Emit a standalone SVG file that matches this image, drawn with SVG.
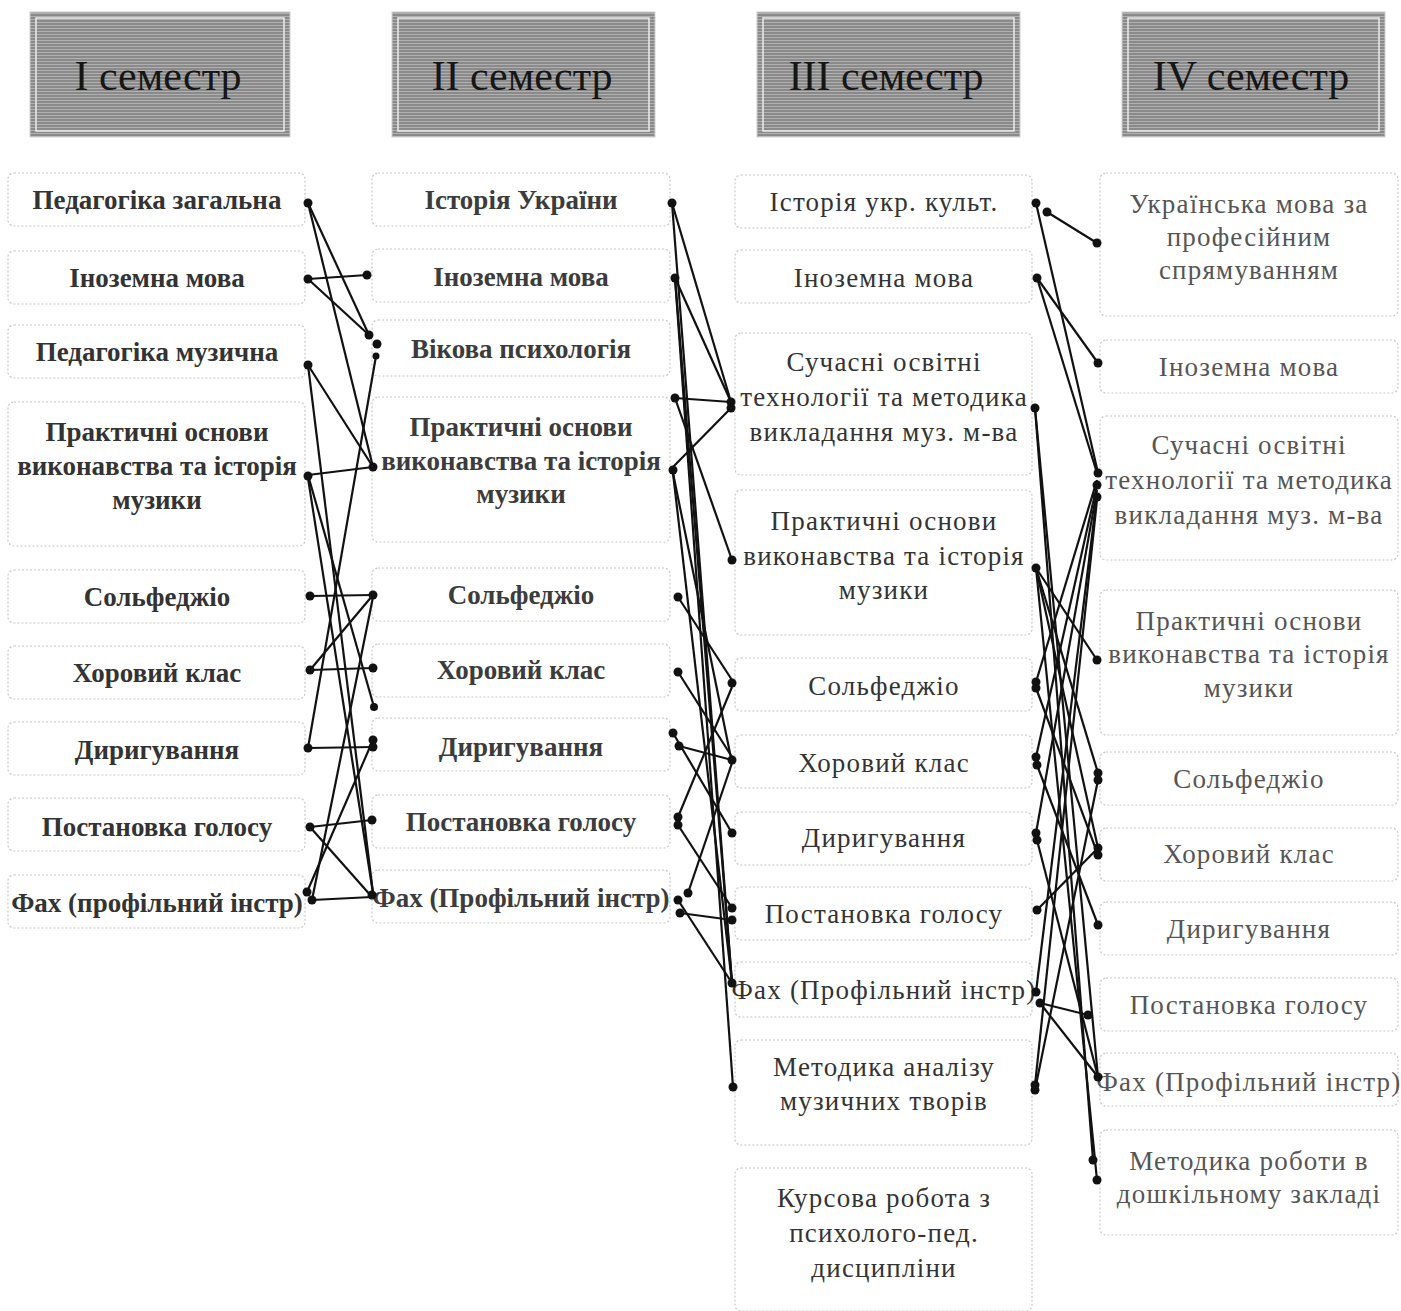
<svg xmlns="http://www.w3.org/2000/svg" width="1401" height="1311" viewBox="0 0 1401 1311">
<defs>
<pattern id="stripes" width="6" height="3" patternUnits="userSpaceOnUse">
<rect width="6" height="3" fill="#8a8a8a"/>
<rect y="1" width="6" height="1" fill="#b0b0b0"/>
</pattern>
<style>
.hdr{fill:url(#stripes);stroke:#cfcfcf;stroke-width:1}
.hin{fill:none;stroke:#ececec;stroke-width:1.5}
.ht{font-family:"Liberation Serif",serif;font-size:42px;fill:#161616;text-anchor:middle}
.box{fill:#fff;stroke:#c8c8c8;stroke-width:1.2;stroke-dasharray:2 2}
.t1{font-family:"Liberation Serif",serif;font-size:27px;font-weight:bold;fill:#333;text-anchor:middle}
.t2{font-family:"Liberation Serif",serif;font-size:27px;font-weight:bold;fill:#3c3c3c;text-anchor:middle}
.t3{font-family:"Liberation Serif",serif;font-size:27px;letter-spacing:1.2px;fill:#333;text-anchor:middle}
.t4{font-family:"Liberation Serif",serif;font-size:27px;letter-spacing:1.2px;fill:#555;text-anchor:middle}
.ln{stroke:#111;stroke-width:2.2;fill:none}
.dt{fill:#111}
</style>
</defs>
<rect width="1401" height="1311" fill="#fff"/>

<g id="hdr1"><rect class="hdr" x="30" y="12" width="260" height="125"/><rect class="hin" x="36" y="18" width="248" height="113"/><text class="ht" x="158" y="90">I семестр</text></g>
<g id="hdr2"><rect class="hdr" x="392" y="12" width="263" height="125"/><rect class="hin" x="398" y="18" width="251" height="113"/><text class="ht" x="522" y="90">II семестр</text></g>
<g id="hdr3"><rect class="hdr" x="757" y="12" width="263" height="125"/><rect class="hin" x="763" y="18" width="251" height="113"/><text class="ht" x="886" y="90">III семестр</text></g>
<g id="hdr4"><rect class="hdr" x="1122" y="12" width="263" height="125"/><rect class="hin" x="1128" y="18" width="251" height="113"/><text class="ht" x="1251" y="90">IV семестр</text></g>

<!-- column 1 -->
<g id="c1n1"><rect class="box" x="8" y="173" width="297" height="53" rx="6"/><text class="t1" x="157" y="209">Педагогіка загальна</text></g>
<g id="c1n2"><rect class="box" x="8" y="251" width="297" height="53" rx="6"/><text class="t1" x="157" y="287">Іноземна мова</text></g>
<g id="c1n3"><rect class="box" x="8" y="325" width="297" height="53" rx="6"/><text class="t1" x="157" y="361">Педагогіка музична</text></g>
<g id="c1n4"><rect class="box" x="8" y="402" width="297" height="144" rx="6"/><text class="t1" x="157" y="441">Практичні основи</text><text class="t1" x="157" y="475">виконавства та історія</text><text class="t1" x="157" y="509">музики</text></g>
<g id="c1n5"><rect class="box" x="8" y="570" width="297" height="53" rx="6"/><text class="t1" x="157" y="606">Сольфеджіо</text></g>
<g id="c1n6"><rect class="box" x="8" y="646" width="297" height="53" rx="6"/><text class="t1" x="157" y="682">Хоровий клас</text></g>
<g id="c1n7"><rect class="box" x="8" y="722" width="297" height="53" rx="6"/><text class="t1" x="157" y="759">Диригування</text></g>
<g id="c1n8"><rect class="box" x="8" y="798" width="297" height="53" rx="6"/><text class="t1" x="157" y="836">Постановка голосу</text></g>
<g id="c1n9"><rect class="box" x="8" y="875" width="297" height="53" rx="6"/><text class="t1" x="157" y="912">Фах (профільний інстр)</text></g>

<!-- column 2 -->
<g id="c2n1"><rect class="box" x="372" y="173" width="298" height="53" rx="6"/><text class="t2" x="521" y="209">Історія України</text></g>
<g id="c2n2"><rect class="box" x="372" y="249" width="298" height="53" rx="6"/><text class="t2" x="521" y="286">Іноземна мова</text></g>
<g id="c2n3"><rect class="box" x="372" y="320" width="298" height="56" rx="6"/><text class="t2" x="521" y="358">Вікова психологія</text></g>
<g id="c2n4"><rect class="box" x="372" y="397" width="298" height="145" rx="6"/><text class="t2" x="521" y="436">Практичні основи</text><text class="t2" x="521" y="470">виконавства та історія</text><text class="t2" x="521" y="503">музики</text></g>
<g id="c2n5"><rect class="box" x="372" y="568" width="298" height="53" rx="6"/><text class="t2" x="521" y="604">Сольфеджіо</text></g>
<g id="c2n6"><rect class="box" x="372" y="644" width="298" height="53" rx="6"/><text class="t2" x="521" y="679">Хоровий клас</text></g>
<g id="c2n7"><rect class="box" x="372" y="718" width="298" height="53" rx="6"/><text class="t2" x="521" y="756">Диригування</text></g>
<g id="c2n8"><rect class="box" x="372" y="795" width="298" height="53" rx="6"/><text class="t2" x="521" y="831">Постановка голосу</text></g>
<g id="c2n9"><rect class="box" x="372" y="870" width="298" height="53" rx="6"/><text class="t2" x="521" y="907">Фах (Профільний інстр)</text></g>

<!-- column 3 -->
<g id="c3n1"><rect class="box" x="735" y="175" width="297" height="53" rx="6"/><text class="t3" x="884" y="211">Історія укр. культ.</text></g>
<g id="c3n2"><rect class="box" x="735" y="250" width="297" height="53" rx="6"/><text class="t3" x="884" y="287">Іноземна мова</text></g>
<g id="c3n3"><rect class="box" x="735" y="333" width="297" height="142" rx="6"/><text class="t3" x="884" y="371">Сучасні освітні</text><text class="t3" x="884" y="406">технології та методика</text><text class="t3" x="884" y="441">викладання муз. м-ва</text></g>
<g id="c3n4"><rect class="box" x="735" y="490" width="297" height="145" rx="6"/><text class="t3" x="884" y="530">Практичні основи</text><text class="t3" x="884" y="565">виконавства та історія</text><text class="t3" x="884" y="599">музики</text></g>
<g id="c3n5"><rect class="box" x="735" y="658" width="297" height="53" rx="6"/><text class="t3" x="884" y="695">Сольфеджіо</text></g>
<g id="c3n6"><rect class="box" x="735" y="735" width="297" height="53" rx="6"/><text class="t3" x="884" y="772">Хоровий клас</text></g>
<g id="c3n7"><rect class="box" x="735" y="812" width="297" height="53" rx="6"/><text class="t3" x="884" y="847">Диригування</text></g>
<g id="c3n8"><rect class="box" x="735" y="887" width="297" height="53" rx="6"/><text class="t3" x="884" y="923">Постановка голосу</text></g>
<g id="c3n9"><rect class="box" x="735" y="962" width="297" height="55" rx="6"/><text class="t3" x="884" y="999">Фах (Профільний інстр)</text></g>
<g id="c3n10"><rect class="box" x="735" y="1040" width="297" height="105" rx="6"/><text class="t3" x="884" y="1076">Методика аналізу</text><text class="t3" x="884" y="1110">музичних творів</text></g>
<g id="c3n11"><rect class="box" x="735" y="1168" width="297" height="143" rx="6"/><text class="t3" x="884" y="1207">Курсова робота з</text><text class="t3" x="884" y="1242">психолого-пед.</text><text class="t3" x="884" y="1277">дисципліни</text></g>

<!-- column 4 -->
<g id="c4n1"><rect class="box" x="1100" y="173" width="298" height="143" rx="6"/><text class="t4" x="1249" y="213">Українська мова за</text><text class="t4" x="1249" y="246">професійним</text><text class="t4" x="1249" y="279">спрямуванням</text></g>
<g id="c4n2"><rect class="box" x="1100" y="340" width="298" height="53" rx="6"/><text class="t4" x="1249" y="376">Іноземна мова</text></g>
<g id="c4n3"><rect class="box" x="1100" y="416" width="298" height="144" rx="6"/><text class="t4" x="1249" y="454">Сучасні освітні</text><text class="t4" x="1249" y="489">технології та методика</text><text class="t4" x="1249" y="524">викладання муз. м-ва</text></g>
<g id="c4n4"><rect class="box" x="1100" y="590" width="298" height="145" rx="6"/><text class="t4" x="1249" y="630">Практичні основи</text><text class="t4" x="1249" y="663">виконавства та історія</text><text class="t4" x="1249" y="697">музики</text></g>
<g id="c4n5"><rect class="box" x="1100" y="752" width="298" height="53" rx="6"/><text class="t4" x="1249" y="788">Сольфеджіо</text></g>
<g id="c4n6"><rect class="box" x="1100" y="828" width="298" height="53" rx="6"/><text class="t4" x="1249" y="863">Хоровий клас</text></g>
<g id="c4n7"><rect class="box" x="1100" y="902" width="298" height="53" rx="6"/><text class="t4" x="1249" y="938">Диригування</text></g>
<g id="c4n8"><rect class="box" x="1100" y="978" width="298" height="53" rx="6"/><text class="t4" x="1249" y="1014">Постановка голосу</text></g>
<g id="c4n9"><rect class="box" x="1100" y="1053" width="298" height="53" rx="6"/><text class="t4" x="1249" y="1091">Фах (Профільний інстр)</text></g>
<g id="c4n10"><rect class="box" x="1100" y="1130" width="298" height="105" rx="6"/><text class="t4" x="1249" y="1170">Методика роботи в</text><text class="t4" x="1249" y="1203">дошкільному закладі</text></g>

<g id="connectors">
<!-- gap 1 -->
<line class="ln" x1="308" y1="203" x2="369" y2="335"/>
<line class="ln" x1="308" y1="203" x2="373" y2="467"/>
<line class="ln" x1="308" y1="279" x2="367" y2="275"/>
<line class="ln" x1="308" y1="279" x2="369" y2="335"/>
<line class="ln" x1="308" y1="365" x2="373" y2="467"/>
<line class="ln" x1="308" y1="365" x2="373" y2="893"/>
<line class="ln" x1="376" y1="356" x2="308" y2="748"/>
<line class="ln" x1="308" y1="475" x2="373" y2="467"/>
<line class="ln" x1="308" y1="475" x2="374" y2="707"/>
<line class="ln" x1="308" y1="478" x2="373" y2="893"/>
<line class="ln" x1="310" y1="596" x2="373" y2="595"/>
<line class="ln" x1="373" y1="595" x2="310" y2="670"/>
<line class="ln" x1="373" y1="597" x2="312" y2="900"/>
<line class="ln" x1="310" y1="670" x2="373" y2="668"/>
<line class="ln" x1="308" y1="748" x2="373" y2="747"/>
<line class="ln" x1="373" y1="740" x2="307" y2="892"/>
<line class="ln" x1="310" y1="827" x2="372" y2="820"/>
<line class="ln" x1="310" y1="827" x2="372" y2="897"/>
<line class="ln" x1="312" y1="900" x2="372" y2="897"/>
<!-- gap 2 -->
<line class="ln" x1="672" y1="203" x2="731" y2="402"/>
<line class="ln" x1="672" y1="203" x2="732" y2="983"/>
<line class="ln" x1="675" y1="278" x2="731" y2="402"/>
<line class="ln" x1="675" y1="278" x2="732" y2="983"/>
<line class="ln" x1="675" y1="278" x2="733" y2="1087"/>
<line class="ln" x1="675" y1="398" x2="731" y2="402"/>
<line class="ln" x1="675" y1="398" x2="732" y2="560"/>
<line class="ln" x1="673" y1="467" x2="731" y2="408"/>
<line class="ln" x1="673" y1="473" x2="732" y2="763"/>
<line class="ln" x1="673" y1="473" x2="732" y2="983"/>
<line class="ln" x1="678" y1="597" x2="732" y2="680"/>
<line class="ln" x1="678" y1="672" x2="732" y2="757"/>
<line class="ln" x1="679" y1="746" x2="732" y2="760"/>
<line class="ln" x1="673" y1="733" x2="732" y2="833"/>
<line class="ln" x1="678" y1="817" x2="732" y2="687"/>
<line class="ln" x1="678" y1="825" x2="732" y2="908"/>
<line class="ln" x1="688" y1="893" x2="732" y2="763"/>
<line class="ln" x1="680" y1="913" x2="732" y2="920"/>
<line class="ln" x1="678" y1="900" x2="732" y2="983"/>
<!-- gap 3 -->
<line class="ln" x1="1047" y1="212" x2="1097" y2="243"/>
<line class="ln" x1="1036" y1="203" x2="1098" y2="473"/>
<line class="ln" x1="1037" y1="278" x2="1098" y2="363"/>
<line class="ln" x1="1037" y1="278" x2="1097" y2="473"/>
<line class="ln" x1="1035" y1="408" x2="1098" y2="1077"/>
<line class="ln" x1="1035" y1="408" x2="1093" y2="1160"/>
<line class="ln" x1="1036" y1="568" x2="1097" y2="660"/>
<line class="ln" x1="1036" y1="568" x2="1098" y2="773"/>
<line class="ln" x1="1036" y1="568" x2="1098" y2="848"/>
<line class="ln" x1="1036" y1="568" x2="1097" y2="1180"/>
<line class="ln" x1="1036" y1="682" x2="1097" y2="480"/>
<line class="ln" x1="1036" y1="688" x2="1098" y2="855"/>
<line class="ln" x1="1036" y1="757" x2="1097" y2="485"/>
<line class="ln" x1="1037" y1="765" x2="1098" y2="925"/>
<line class="ln" x1="1036" y1="833" x2="1097" y2="490"/>
<line class="ln" x1="1037" y1="840" x2="1098" y2="1077"/>
<line class="ln" x1="1037" y1="910" x2="1098" y2="848"/>
<line class="ln" x1="1036" y1="992" x2="1097" y2="495"/>
<line class="ln" x1="1040" y1="1003" x2="1088" y2="1015"/>
<line class="ln" x1="1040" y1="1003" x2="1098" y2="1077"/>
<line class="ln" x1="1035" y1="1085" x2="1097" y2="500"/>
<line class="ln" x1="1035" y1="1090" x2="1098" y2="780"/>
<!-- dots -->
<g class="dt">
<circle cx="308" cy="203" r="4.5"/><circle cx="308" cy="279" r="4.5"/><circle cx="308" cy="365" r="4.5"/><circle cx="308" cy="476" r="4.5"/>
<circle cx="310" cy="596" r="4.5"/><circle cx="310" cy="670" r="4.5"/><circle cx="308" cy="748" r="4.5"/><circle cx="310" cy="827" r="4.5"/>
<circle cx="307" cy="892" r="4.5"/><circle cx="312" cy="900" r="4.5"/>
<circle cx="367" cy="275" r="4.5"/><circle cx="369" cy="335" r="4.5"/><circle cx="377" cy="344" r="4.5"/><circle cx="376" cy="356" r="3.5"/>
<circle cx="373" cy="467" r="4.5"/><circle cx="373" cy="595" r="4.5"/><circle cx="373" cy="668" r="4.5"/><circle cx="374" cy="707" r="4"/>
<circle cx="373" cy="740" r="4.5"/><circle cx="373" cy="747" r="4.5"/><circle cx="372" cy="820" r="4.5"/><circle cx="372" cy="895" r="4.5"/>
<circle cx="672" cy="203" r="4.5"/><circle cx="675" cy="278" r="4.5"/><circle cx="675" cy="398" r="4.5"/><circle cx="673" cy="470" r="4.5"/>
<circle cx="678" cy="597" r="4.5"/><circle cx="678" cy="672" r="4.5"/><circle cx="673" cy="733" r="4.5"/><circle cx="679" cy="746" r="4.5"/>
<circle cx="678" cy="817" r="4.5"/><circle cx="678" cy="825" r="4.5"/><circle cx="688" cy="893" r="4.5"/><circle cx="678" cy="900" r="4.5"/><circle cx="680" cy="913" r="4.5"/>
<circle cx="731" cy="402" r="4.5"/><circle cx="731" cy="408" r="4.5"/><circle cx="732" cy="560" r="4.5"/><circle cx="732" cy="683" r="4.5"/>
<circle cx="732" cy="760" r="4.5"/><circle cx="732" cy="833" r="4.5"/><circle cx="732" cy="908" r="4.5"/><circle cx="732" cy="920" r="4.5"/>
<circle cx="732" cy="983" r="4.5"/><circle cx="733" cy="1087" r="4.5"/>
<circle cx="1036" cy="203" r="4.5"/><circle cx="1047" cy="212" r="4.5"/><circle cx="1037" cy="278" r="4.5"/><circle cx="1035" cy="408" r="4.5"/>
<circle cx="1036" cy="568" r="4.5"/><circle cx="1036" cy="682" r="4.5"/><circle cx="1036" cy="688" r="4.5"/><circle cx="1036" cy="757" r="4.5"/><circle cx="1037" cy="765" r="4.5"/>
<circle cx="1036" cy="833" r="4.5"/><circle cx="1037" cy="840" r="4.5"/><circle cx="1037" cy="910" r="4.5"/><circle cx="1036" cy="992" r="4.5"/><circle cx="1040" cy="1003" r="4.5"/>
<circle cx="1035" cy="1085" r="4.5"/><circle cx="1035" cy="1090" r="4.5"/>
<circle cx="1097" cy="243" r="4.5"/><circle cx="1098" cy="363" r="4.5"/><circle cx="1098" cy="473" r="4.5"/><circle cx="1097" cy="485" r="4.5"/><circle cx="1097" cy="497" r="4.5"/>
<circle cx="1097" cy="660" r="4.5"/><circle cx="1098" cy="773" r="4.5"/><circle cx="1098" cy="780" r="4.5"/><circle cx="1098" cy="848" r="4.5"/><circle cx="1098" cy="855" r="4.5"/>
<circle cx="1098" cy="925" r="4.5"/><circle cx="1088" cy="1015" r="4.5"/><circle cx="1098" cy="1077" r="4.5"/><circle cx="1093" cy="1160" r="4.5"/><circle cx="1097" cy="1180" r="4.5"/>
</g>
</g>
</svg>
